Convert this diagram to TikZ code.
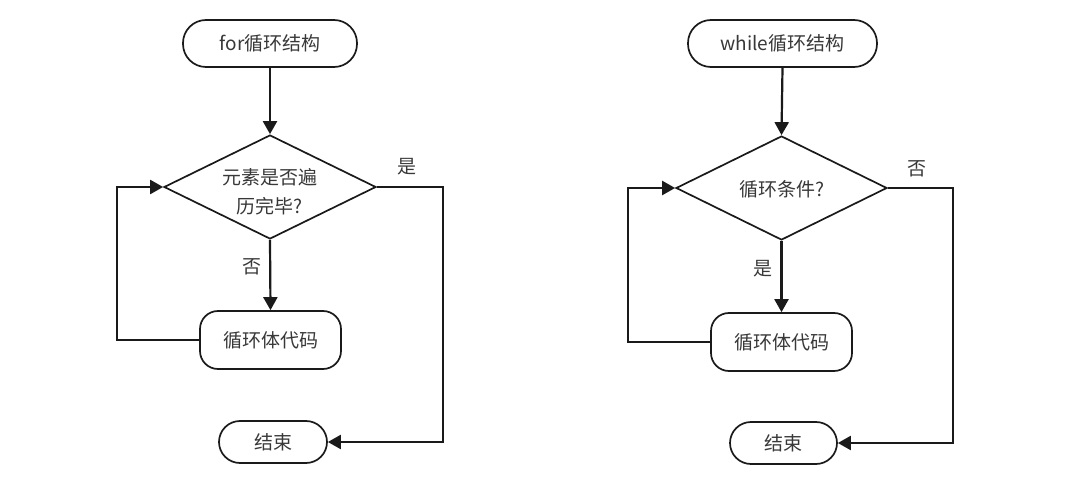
\documentclass[tikz,border=0pt]{standalone}
\usepackage{fontspec}
\setmainfont{Noto Sans CJK SC}
\usetikzlibrary{shapes.geometric,arrows.meta}
\definecolor{ink}{HTML}{1A1A1A}
\definecolor{txt}{HTML}{383838}
\begin{document}
\begin{tikzpicture}[x=1pt,y=-1pt,
  every node/.style={font=\fontsize{19}{29}\selectfont, text=txt},
  box/.style={draw=ink, line width=1.7pt, fill=white, inner sep=0pt},
  stadium/.style={box, rectangle, rounded corners=#1},
  dia/.style={draw=ink, line width=1.7pt, diamond, inner sep=0pt, minimum width=212pt, minimum height=104pt},
  conn/.style={draw=ink, line width=2.2pt, -{Triangle[length=13pt,width=14pt]}},
  lbl/.style={inner sep=0pt}]
\useasboundingbox (0,0) rectangle (1080,484);
% ---------- for loop ----------
\node[stadium=23pt, minimum width=174pt, minimum height=47pt] (s1) at (270,43.5) {for循环结构};
\node[dia] (d1) at (270,187) {};
\node[lbl, align=center] (d1t) at (270,192) {元素是否遍\\历完毕?};
\node[stadium=18pt, minimum width=141pt, minimum height=58pt] (b1) at (270.5,340) {循环体代码};
\node[stadium=21pt, minimum width=108pt, minimum height=42pt] (e1) at (273,442) {结束};
\coordinate (r1) at (443,187);
\coordinate (l1) at (117,340);
\node[lbl] (y1) at (407,167) {是};
\node[lbl] (n1) at (252,267) {否};
\draw[conn] (s1.south) -- (d1.north);
\draw[conn] (d1.south) -- (b1.north);
\draw[conn] (d1.east) -- (r1) |- (e1.east);
\draw[conn] (b1.west) -- (l1) |- (d1.west);
% ---------- while loop ----------
\node[stadium=23pt, minimum width=189pt, minimum height=47pt] (s2) at (782.5,43.5) {while循环结构};
\node[dia, minimum width=211pt] (d2) at (781.5,188) {};
\node[lbl] (d2t) at (781.5,189) {循环条件?};
\node[stadium=18pt, minimum width=141pt, minimum height=58pt] (b2) at (781.5,342) {循环体代码};
\node[stadium=21pt, minimum width=107pt, minimum height=42pt] (e2) at (783.5,443) {结束};
\coordinate (r2) at (953,188);
\coordinate (l2) at (628,342);
\node[lbl] (y2) at (917,169) {否};
\node[lbl] (n2) at (763,269) {是};
\draw[conn] (s2.south) -- (d2.north);
\draw[conn] (d2.south) -- (b2.north);
\draw[conn] (d2.east) -- (r2) |- (e2.east);
\draw[conn] (b2.west) -- (l2) |- (d2.west);
\end{tikzpicture}
\end{document}
